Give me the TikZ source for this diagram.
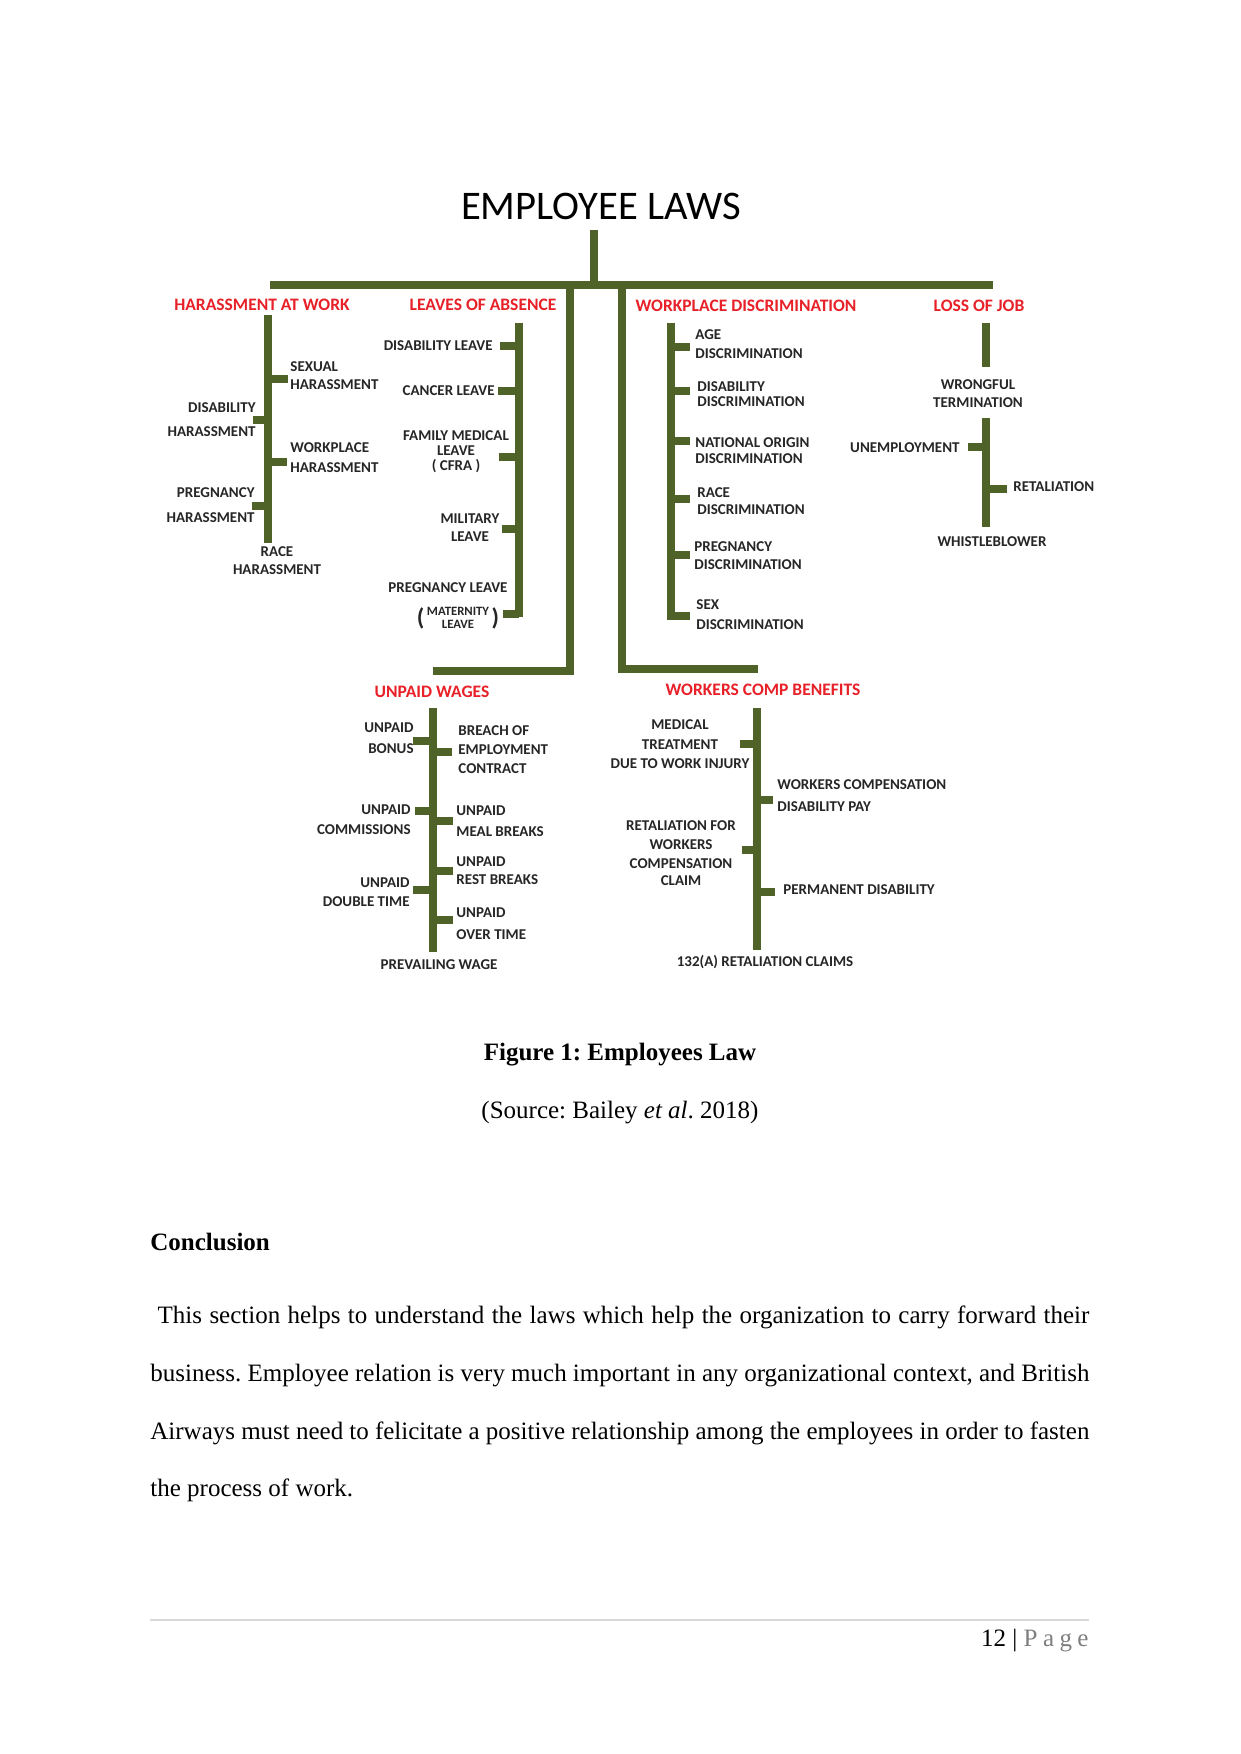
\documentclass[tikz,border=0pt]{standalone}
\usepackage{fontspec}
\setmainfont{Liberation Serif}
\newfontfamily\diagfont{Carlito}
\usepackage{xcolor}
\usetikzlibrary{positioning}
\definecolor{olivebar}{HTML}{4F6228}
\definecolor{headred}{RGB}{232,32,40}
\definecolor{pagegray}{RGB}{127,127,127}
\frenchspacing
\tikzset{
    bar/.style={line width=3.6pt, draw=olivebar},
    tick/.style={line width=3.6pt, draw=olivebar},
    heading/.style={font=\diagfont\bfseries\fontsize{8.4}{10}\selectfont, text=headred, inner sep=0pt},
    leaf/.style={font=\diagfont\bfseries\fontsize{7.2}{8.6}\selectfont, text=black!85, inner sep=0pt},
    leafl/.style={leaf, align=left, anchor=west},
    leafr/.style={leaf, align=right, anchor=east},
    leafc/.style={leaf, align=center},
    body/.style={font=\fontsize{12}{14}\selectfont, inner sep=0pt}
}

\begin{document}
\begin{tikzpicture}[x=0.48pt, y=-0.48pt]
    \useasboundingbox[fill=white] (0,0) rectangle (1241,1754);

    \node (title) [font=\diagfont\fontsize{19.5}{22}\selectfont, inner sep=0pt] at (601,206) {EMPLOYEE LAWS};

    \coordinate (root) at (594,230);
    \coordinate (hub) at (594,285);
    \coordinate (barl) at (270,285);
    \coordinate (barr) at (993,285);
    \coordinate (dropl) at (570,285);
    \coordinate (dropr) at (622,285);
    \draw [bar] (root) -- (hub);
    \draw [bar] (barl) -- (barr);
    \draw [bar] (dropl) -- (570,671) -- (433,671);
    \draw [bar] (dropr) -- (622,669) -- (758,669);

    \node (harass) [heading] at (262,305) {HARASSMENT AT WORK};
    \node (leaves) [heading] at (483,305) {LEAVES OF ABSENCE};
    \node (discr) [heading] at (746,306) {WORKPLACE DISCRIMINATION};
    \node (lossjob) [heading] at (979,306) {LOSS OF JOB};
    \node (wages) [heading] at (432,692) {UNPAID WAGES};
    \node (comp) [heading] at (763,690) {WORKERS COMP BENEFITS};

    \draw [bar] (268,315) -- (268,543);
    \node (sexh) [leafl] at (290,376) {SEXUAL\\HARASSMENT};
    \node (dish) [leafr] at (256,420) {DISABILITY\\[2.9pt]HARASSMENT};
    \node (wph) [leafl] at (290,458) {WORKPLACE\\[1pt]HARASSMENT};
    \node (prh) [leafr] at (255,505) {PREGNANCY\\[3.4pt]HARASSMENT};
    \node (rch) [leafc] at (277,561) {RACE\\HARASSMENT};
    \coordinate (h1) at (268,379);
    \coordinate (h2) at (268,420);
    \coordinate (h3) at (268,462);
    \coordinate (h4) at (268,506);
    \draw [tick] (h1) -- +(20,0);
    \draw [tick] (h2) -- +(-15,0);
    \draw [tick] (h3) -- +(19,0);
    \draw [tick] (h4) -- +(-16,0);

    \draw [bar] (519,323) -- (519,617);
    \node (disl) [leafr] at (493,346) {DISABILITY LEAVE};
    \node (canl) [leafr] at (495,391) {CANCER LEAVE};
    \node (fml) [leafc, font=\diagfont\bfseries\fontsize{7.2}{7.2}\selectfont] at (456,452) {FAMILY MEDICAL\\LEAVE\\( CFRA )};
    \node (mill) [leafc] at (470,528) {MILITARY\\LEAVE};
    \node (pregl) [leaf] at (448,588) {PREGNANCY LEAVE};
    \node (matl) [leaf] at (458,619) {\fontsize{11.5}{12}\selectfont(\hspace{1.2pt}\raisebox{1.8pt}{\fontsize{6.1}{6.2}\selectfont\begin{tabular}{@{}c@{}}MATERNITY\\LEAVE\end{tabular}}\hspace{1.2pt})};
    \coordinate (l1) at (519,346);
    \coordinate (l2) at (519,391);
    \coordinate (l3) at (519,457);
    \coordinate (l4) at (519,529);
    \coordinate (l5) at (519,614);
    \draw [tick] (l1) -- +(-19,0);
    \draw [tick] (l2) -- +(-21,0);
    \draw [tick] (l3) -- +(-20,0);
    \draw [tick] (l4) -- +(-17,0);
    \draw [tick] (l5) -- +(-16,0);

    \draw [bar] (671,323) -- (671,620);
    \node (aged) [leafl] at (695,344.5) {AGE\\[0.5pt]DISCRIMINATION};
    \node (disd) [leafl] at (697,394.5) {DISABILITY\\[-1.4pt]DISCRIMINATION};
    \node (natd) [leafl] at (695,451) {NATIONAL ORIGIN\\[-0.9pt]DISCRIMINATION};
    \node (raced) [leafl] at (697,501.5) {RACE\\[-0.4pt]DISCRIMINATION};
    \node (pregd) [leafl] at (694,556) {PREGNANCY\\DISCRIMINATION};
    \node (sexd) [leafl] at (696,615) {SEX\\[1pt]DISCRIMINATION};
    \coordinate (d1) at (671,347);
    \coordinate (d2) at (671,391);
    \coordinate (d3) at (671,441);
    \coordinate (d4) at (671,499);
    \coordinate (d5) at (671,555);
    \coordinate (d6) at (671,616);
    \draw [tick] (d1) -- +(19,0);
    \draw [tick] (d2) -- +(19,0);
    \draw [tick] (d3) -- +(19,0);
    \draw [tick] (d4) -- +(19,0);
    \draw [tick] (d5) -- +(19,0);
    \draw [tick] (d6) -- +(19,0);

    \draw [bar] (986,323) -- (986,367);
    \draw [bar] (986,418) -- (986,527);
    \node (wrong) [leafc] at (978,394) {WRONGFUL\\TERMINATION};
    \node (unemp) [leafr] at (960,448) {UNEMPLOYMENT};
    \node (retal) [leafl] at (1013,487) {RETALIATION};
    \node (whist) [leaf] at (992,542) {WHISTLEBLOWER};
    \coordinate (j1) at (986,447);
    \coordinate (j2) at (986,489);
    \draw [tick] (j1) -- +(-18,0);
    \draw [tick] (j2) -- +(21,0);

    \draw [bar] (433,708) -- (433,952);
    \node (bonus) [leafr] at (414,738.5) {UNPAID\\[1.5pt]BONUS};
    \node (breach) [leafl] at (458,750) {BREACH OF\\[0.5pt]EMPLOYMENT\\[0.5pt]CONTRACT};
    \node (comm) [leafr] at (411,820) {UNPAID\\[1pt]COMMISSIONS};
    \node (meal) [leafl] at (456,821.5) {UNPAID\\[1.5pt]MEAL BREAKS};
    \node (rest) [leafl] at (456,871) {UNPAID\\REST BREAKS};
    \node (dbl) [leafr] at (410,892.5) {UNPAID\\[0.5pt]DOUBLE TIME};
    \node (over) [leafl] at (456,924) {UNPAID\\[2pt]OVER TIME};
    \node (prev) [leaf] at (439,965) {PREVAILING WAGE};
    \coordinate (u1) at (433,741);
    \coordinate (u2) at (433,752);
    \coordinate (u3) at (433,811);
    \coordinate (u4) at (433,821);
    \coordinate (u5) at (433,871);
    \coordinate (u6) at (433,890);
    \coordinate (u7) at (433,920);
    \draw [tick] (u1) -- +(-20,0);
    \draw [tick] (u2) -- +(19,0);
    \draw [tick] (u3) -- +(-18,0);
    \draw [tick] (u4) -- +(20,0);
    \draw [tick] (u5) -- +(20,0);
    \draw [tick] (u6) -- +(-20,0);
    \draw [tick] (u7) -- +(20,0);

    \draw [bar] (757,708) -- (757,950);
    \node (medt) [leafc] at (680,744.5) {MEDICAL\\[0.8pt]TREATMENT\\[0.8pt]DUE TO WORK INJURY};
    \node (wcd) [leafl] at (777,796) {WORKERS COMPENSATION\\[2pt]DISABILITY PAY};
    \node (retw) [leafc] at (681,853.5) {RETALIATION FOR\\[0.5pt]WORKERS\\[0.5pt]COMPENSATION\\[-0.5pt]CLAIM};
    \node (perm) [leafl] at (783,890) {PERMANENT DISABILITY};
    \node (r132) [leaf] at (765,962) {132(A) RETALIATION CLAIMS};
    \coordinate (w1) at (757,744);
    \coordinate (w2) at (757,800);
    \coordinate (w3) at (757,850);
    \coordinate (w4) at (757,892);
    \draw [tick] (w1) -- +(-17,0);
    \draw [tick] (w2) -- +(16,0);
    \draw [tick] (w3) -- +(-15,0);
    \draw [tick] (w4) -- +(18,0);

    \node (figcap) [body, font=\fontsize{12}{14}\selectfont\bfseries, anchor=base] at (620,1060) {Figure 1: Employees Law};
    \node (src) [body, anchor=base] at (620,1118) {(Source: Bailey \textit{et al}. 2018)};
    \node (concl) [body, font=\fontsize{12}{14}\selectfont\bfseries, anchor=base west] at (150,1250) {Conclusion};
    \node (par1) [body, anchor=base west] at (150,1323) {\makebox[450.7pt][s]{\hspace*{3.5pt}This section helps to understand the laws which help the organization to carry forward their}};
    \node (par2) [body, anchor=base west] at (150,1381) {\makebox[450.7pt][s]{business. Employee relation is very much important in any organizational context, and British}};
    \node (par3) [body, anchor=base west] at (150,1439) {\makebox[450.7pt][s]{Airways must need to felicitate a positive relationship among the employees in order to fasten}};
    \node (par4) [body, anchor=base west] at (150,1496) {the process of work.};

    \coordinate (rulel) at (150,1620);
    \coordinate (ruler) at (1089,1620);
    \draw [black!15, line width=0.6pt] (rulel) -- (ruler);
    \node (pageno) [body, anchor=base east] at (1089,1646) {12 | {\color{pagegray}P\hspace{2.6pt}a\hspace{2.6pt}g\hspace{2.6pt}e}};
\end{tikzpicture}
\end{document}
